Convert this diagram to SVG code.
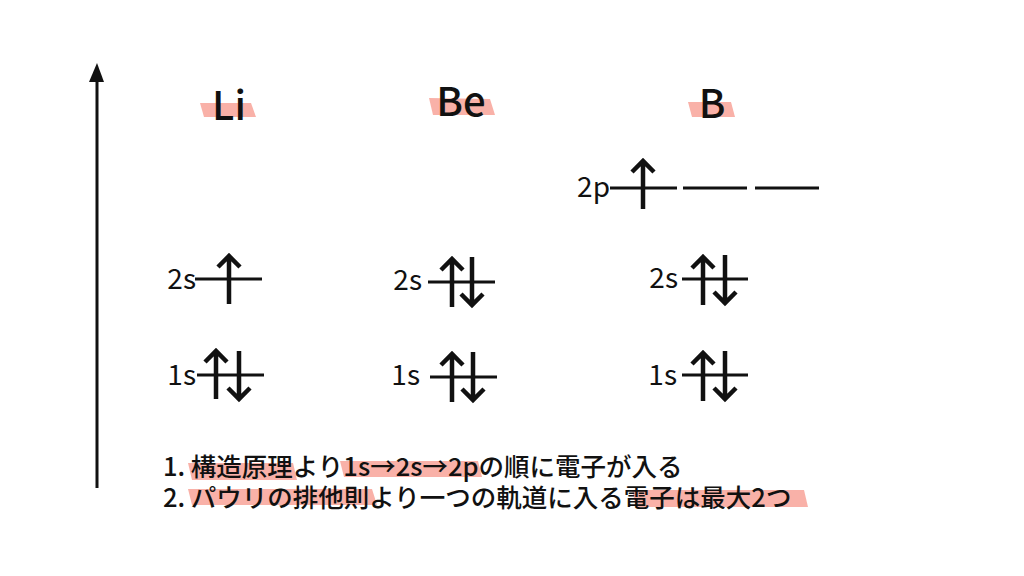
<svg xmlns="http://www.w3.org/2000/svg" width="1024" height="576" viewBox="0 0 1024 576">
<defs>
<style>
.t{font-family:"Noto Sans CJK JP","Noto Sans",sans-serif;fill:#111}
.lbl{font-size:40px;font-weight:500;text-anchor:middle}
.orb{font-size:28px;text-anchor:end}
.note{font-size:25.5px;font-weight:500}
.hl{fill:#f9b1a8}
.lv{stroke:#111;stroke-width:3;fill:none}
.el{stroke:#111;stroke-width:4.5;fill:none;stroke-linejoin:miter}
.ax{stroke:#111;stroke-width:3}
</style>
</defs>
<rect width="1024" height="576" fill="#fff"/>
<g id="axis">
<line class="ax" x1="97" y1="80" x2="97" y2="488"/>
<polygon points="97,63 89,82 104,82" fill="#111"/>
</g>
<g id="Li">
<polygon class="hl" points="200,103 251,103 256,117 204,117"/>
<text class="t lbl" x="229" y="120">Li</text>
<g id="Li-2s">
<text class="t orb" x="196" y="289">2s</text>
<line class="lv" x1="195" y1="279" x2="262" y2="279"/>
<path class="el" d="M229,304V256M218,267L229,256L240,267"/>
</g>
<g id="Li-1s">
<text class="t orb" x="196" y="385">1s</text>
<line class="lv" x1="197" y1="375" x2="264" y2="375"/>
<path class="el" d="M216,399V351M205,362L216,351L227,362"/>
<path class="el" d="M239,351V399M228,388L239,399L250,388"/>
</g>
</g>
<g id="Be">
<polygon class="hl" points="429,98 490,99 495,115 433,115"/>
<text class="t lbl" x="461" y="116">Be</text>
<g id="Be-2s">
<text class="t orb" x="422" y="290">2s</text>
<line class="lv" x1="428" y1="282" x2="495" y2="282"/>
<path class="el" d="M452,307V259M441,270L452,259L463,270"/>
<path class="el" d="M472,257V305M461,294L472,305L483,294"/>
</g>
<g id="Be-1s">
<text class="t orb" x="420" y="385">1s</text>
<line class="lv" x1="430" y1="377" x2="497" y2="377"/>
<path class="el" d="M452,402V354M441,365L452,354L463,365"/>
<path class="el" d="M473,352V400M462,389L473,400L484,389"/>
</g>
</g>
<g id="B">
<polygon class="hl" points="688,102 731,102 735,117 692,117"/>
<text class="t lbl" x="712" y="118">B</text>
<g id="B-2p">
<text class="t orb" x="610" y="197">2p</text>
<line class="lv" x1="610" y1="188" x2="677" y2="188"/>
<line class="lv" x1="683" y1="188" x2="747" y2="188"/>
<line class="lv" x1="755" y1="188" x2="819" y2="188"/>
<path class="el" d="M643,209V161M632,172L643,161L654,172"/>
</g>
<g id="B-2s">
<text class="t orb" x="678" y="288">2s</text>
<line class="lv" x1="682" y1="279" x2="748" y2="279"/>
<path class="el" d="M703,305V257M692,268L703,257L714,268"/>
<path class="el" d="M725,255V303M714,292L725,303L736,292"/>
</g>
<g id="B-1s">
<text class="t orb" x="677" y="385">1s</text>
<line class="lv" x1="682" y1="375" x2="748" y2="375"/>
<path class="el" d="M703,401V353M692,364L703,353L714,364"/>
<path class="el" d="M725,351V399M714,388L725,399L736,388"/>
</g>
</g>
<g id="notes">
<polygon class="hl" points="188,463 293,463 297,480 192,480"/>
<polygon class="hl" points="340,461 478,461 482,477 344,477"/>
<polygon class="hl" points="188,489 372,489 377,505 192,505"/>
<polygon class="hl" points="632,490 804,490 808,507 636,507"/>
<text class="t note" x="163" y="476">1. 構造原理より1s→2s→2pの順に電子が入る</text>
<text class="t note" x="163" y="507">2. パウリの排他則より一つの軌道に入る電子は最大2つ</text>
</g>
</svg>
